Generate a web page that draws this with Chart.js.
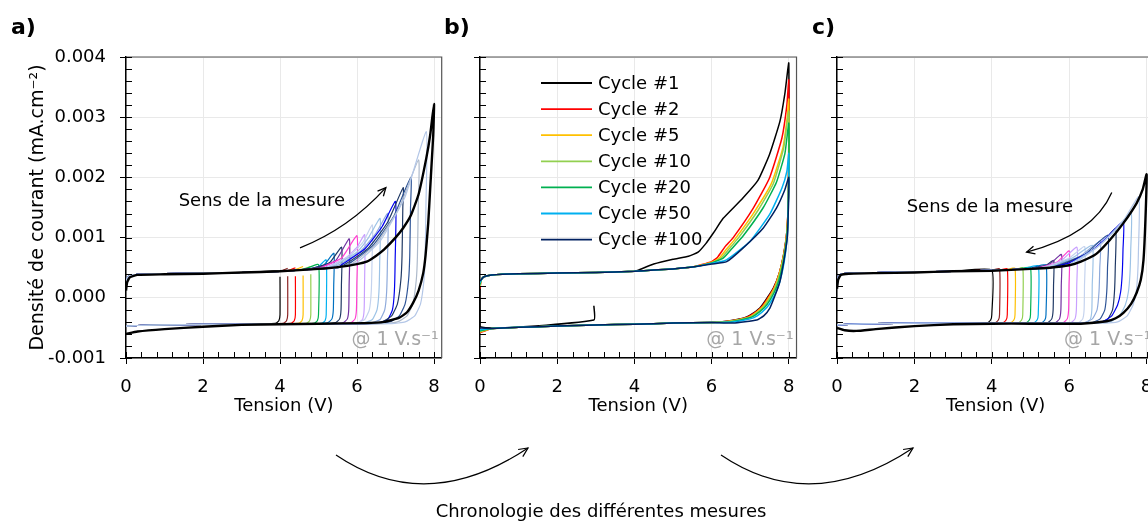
<!DOCTYPE html>
<html>
<head>
<meta charset="utf-8">
<script src="https://cdn.jsdelivr.net/npm/chart.js"></script>
<style>
  body { margin: 0; background: #fff; }
  #wrap { position: relative; width: 1148px; height: 525px; overflow: hidden; font-family: "DejaVu Sans", sans-serif; color: #000; }
  canvas { position: absolute; left: 0; top: 0; }
  .tag { position: absolute; font-weight: bold; font-size: 22px; line-height: 26px; }
  #chrono { position: absolute; left: 601px; top: 500px; transform: translateX(-50%); font-size: 18px; line-height: 22px; white-space: nowrap; }
  svg { position: absolute; left: 0; top: 0; }
</style>
</head>
<body>
<div id="wrap">
  <canvas id="chartA" width="1190" height="525"></canvas>
  <canvas id="chartB" width="1190" height="525"></canvas>
  <canvas id="chartC" width="1190" height="525"></canvas>
  <svg width="1148" height="525">
    <g fill="none" stroke="#000" stroke-width="1.2">
      <path d="M336,455 Q426,516 528,448" />
      <path d="M522.8,456.6 L528,448 L518.1,449.5" />
      <path d="M721,455 Q811,516 913,448" />
      <path d="M907.8,456.6 L913,448 L903.1,449.5" />
    </g>
  </svg>
  <div class="tag" style="left:11px;top:14px">a)</div>
  <div class="tag" style="left:444px;top:14px">b)</div>
  <div class="tag" style="left:812px;top:14px">c)</div>
  <div id="chrono">Chronologie des différentes mesures</div>
</div>

<script>
// axis ticks
const xTicks = [0, 2, 4, 6, 8];
const yTicks = [-0.001, 0, 0.001, 0.002, 0.003, 0.004];

// ---------- panel a : vertex potential raised step by step ----------
const vertexA = [4.0, 4.2, 4.4, 4.6, 4.8, 5.0, 5.2, 5.4, 5.6, 5.8, 6.0, 6.2, 6.4, 6.6, 6.8, 7.0, 7.2, 7.4, 7.6, 7.8];
const colorsA = ['#000000', '#8b2323', '#ff0000', '#ffc000', '#92d050', '#00b050', '#00b0f0', '#0070c0', '#1f3864', '#7030a0',
                 '#ff3fd0', '#c9a0ff', '#c5d3ee', '#9dc3e6', '#8eaadb', '#0000ee', '#1f3864', '#2f5597', '#adb9ca', '#b4c7e7'];
const topBaseA = [[0, 0.00026], [0.03, 0.00033], [0.1, 0.00037], [0.3, 0.00039], [1, 0.0004], [2, 0.00041], [3, 0.00042],
                  [4, 0.00044], [4.5, 0.00046], [5, 0.00048], [5.5, 0.0005], [6, 0.00054]];
const botBaseA = [[7, -0.00042], [6, -0.00043], [5, -0.00043], [4, -0.00043], [3, -0.00044], [2, -0.00044], [1, -0.00045],
                  [0.3, -0.00046], [0, -0.00047]];
const riseA = [
  [[4.0, 0.00045]],
  [[4.05, 0.00045], [4.2, 0.00049]],
  [[4.2, 0.00045], [4.4, 0.0005]],
  [[4.35, 0.00046], [4.6, 0.00052]],
  [[4.55, 0.00047], [4.8, 0.00052]],
  [[4.65, 0.00048], [5.0, 0.00055]],
  [[4.75, 0.00048], [5.0, 0.00052], [5.2, 0.00063]],
  [[4.85, 0.00049], [5.15, 0.00055], [5.4, 0.00074]],
  [[4.9, 0.0005], [5.3, 0.00059], [5.6, 0.00084]],
  [[5.0, 0.0005], [5.45, 0.00062], [5.8, 0.00098]],
  [[5.1, 0.00051], [5.6, 0.00066], [6.0, 0.00103]],
  [[5.2, 0.00051], [5.7, 0.00066], [6.0, 0.00084], [6.2, 0.00105]],
  [[5.3, 0.00052], [5.8, 0.00069], [6.15, 0.00092], [6.4, 0.00121]],
  [[5.4, 0.00053], [6.0, 0.00076], [6.3, 0.001], [6.6, 0.00132]],
  [[5.5, 0.00054], [6.1, 0.00078], [6.5, 0.00108], [6.8, 0.0014]],
  [[5.6, 0.00055], [6.2, 0.00081], [6.65, 0.00118], [7.0, 0.0016]],
  [[5.7, 0.00056], [6.3, 0.00083], [6.8, 0.00126], [7.2, 0.00183]],
  [[5.8, 0.00057], [6.4, 0.00086], [6.95, 0.00135], [7.4, 0.002]],
  [[5.9, 0.00058], [6.5, 0.0009], [7.1, 0.0015], [7.6, 0.00229]],
  [[6.0, 0.00059], [6.6, 0.00094], [7.25, 0.00168], [7.8, 0.00276]]
];
const gapTopA = [0.00035, 0.00036, 0.00036, 0.00037, 0.00039, null, null, null, null, null,
                 null, null, null, null, null, null, null, null, null, null];
const kneeIdxA = [0, 0, 0, 0, 0, 0, 0, 1, 1, 1, 1, 1, 2, 2, 2, 2, 3, 3, 3, 3];
const blackTopA = [[0, 0.00012], [0.03, 0.00026], [0.1, 0.00034], [0.3, 0.00038], [1, 0.00039], [2, 0.0004], [3, 0.00042],
                   [4, 0.00044], [5, 0.00048], [5.5, 0.00051], [6, 0.00056], [6.25, 0.0006], [6.5, 0.0007], [6.7, 0.0008],
                   [7.0, 0.001], [7.2, 0.00116], [7.4, 0.00137], [7.6, 0.00172], [7.8, 0.00232], [7.9, 0.0027], [8, 0.00322]];
const blackBotA = [[7.98, 0.0027], [7.94, 0.00225], [7.9, 0.0018], [7.85, 0.00124], [7.78, 0.0007], [7.72, 0.00041],
                   [7.6, 0.00012], [7.46, -0.00008], [7.3, -0.00024], [7.1, -0.00033], [6.7, -0.0004], [6.2, -0.00042],
                   [5, -0.00043], [4, -0.00044], [3, -0.00045], [2, -0.00048], [1, -0.00052], [0.3, -0.00056], [0, -0.0006]];

// return-branch shapes just after the vertex (offset from vertex, current)
const kneesA = [
  [[0, -0.00028], [-0.03, -0.00038], [-0.1, -0.00042], [-0.3, -0.00043]],
  [[-0.005, 0.0002], [-0.015, -0.0002], [-0.05, -0.00035], [-0.15, -0.00041], [-0.4, -0.00043]],
  [[-0.01, 0.0006], [-0.03, 0.0001], [-0.08, -0.0002], [-0.2, -0.00036], [-0.45, -0.00042]],
  [[-0.01, 0.0015], [-0.03, 0.0007], [-0.06, 0.0003], [-0.15, -0.0001], [-0.3, -0.0003], [-0.55, -0.0004], [-0.9, -0.00043]]
];

// ---------- panel c : vertex potential lowered step by step ----------
const vertexC = [4.0, 4.2, 4.4, 4.6, 4.8, 5.0, 5.2, 5.4, 5.6, 5.8, 6.0, 6.2, 6.4, 6.6, 6.8, 7.0, 7.2, 7.4, 7.6, 7.8];
const colorsC = ['#000000', '#8b2323', '#ff0000', '#ffc000', '#92d050', '#00b050', '#00b0f0', '#0070c0', '#1f3864', '#7030a0',
                 '#ff3fd0', '#c9a0ff', '#c5d3ee', '#9dc3e6', '#8eaadb', '#2f5597', '#1f3864', '#0000ee', '#9dc3e6', '#b4c7e7'];
const topBaseC = [[0, 0.00026], [0.03, 0.00034], [0.1, 0.00039], [0.3, 0.00041], [1, 0.00042], [2, 0.00043], [3, 0.00044],
                  [4, 0.00046], [4.5, 0.00047], [5, 0.00048], [5.5, 0.0005], [6, 0.00054]];
const botBaseC = [[7, -0.00042], [6, -0.00042], [5, -0.00042], [4, -0.00042], [3, -0.00042], [2, -0.00042], [1, -0.00043],
                  [0.3, -0.00044], [0, -0.00045]];
const riseC = [
  [[4.0, 0.00046]],
  [[4.0, 0.00046], [4.2, 0.00048]],
  [[4.2, 0.00046], [4.4, 0.00048]],
  [[4.4, 0.00047], [4.6, 0.00049]],
  [[4.6, 0.00047], [4.8, 0.0005]],
  [[4.7, 0.00048], [5.0, 0.0005]],
  [[4.8, 0.00048], [5.2, 0.00053]],
  [[5.0, 0.00049], [5.4, 0.00055]],
  [[5.1, 0.0005], [5.4, 0.00054], [5.6, 0.00062]],
  [[5.2, 0.0005], [5.5, 0.00056], [5.8, 0.00072]],
  [[5.3, 0.00051], [5.7, 0.0006], [6.0, 0.00078]],
  [[5.4, 0.00052], [5.8, 0.00062], [6.2, 0.00084]],
  [[5.5, 0.00053], [6.0, 0.00066], [6.4, 0.00085]],
  [[5.6, 0.00054], [6.1, 0.00067], [6.6, 0.00087]],
  [[5.7, 0.00055], [6.3, 0.0007], [6.8, 0.00094]],
  [[5.8, 0.00056], [6.4, 0.00072], [7.0, 0.00104]],
  [[5.9, 0.00057], [6.5, 0.00075], [6.9, 0.00095], [7.2, 0.00115]],
  [[6.0, 0.00058], [6.6, 0.00079], [7.0, 0.00102], [7.4, 0.00127]],
  [[6.1, 0.00059], [6.7, 0.00083], [7.2, 0.00113], [7.6, 0.00142]],
  [[6.2, 0.0006], [6.8, 0.00088], [7.4, 0.00128], [7.8, 0.00168]]
];
const kneeIdxC = [0, 0, 0, 0, 0, 0, 0, 0, 1, 1, 1, 1, 1, 1, 2, 2, 2, 3, 3, 3];
const kneesC = [
  [[0, -0.00028], [-0.03, -0.00037], [-0.1, -0.00041], [-0.3, -0.00042]],
  [[-0.005, 0.0002], [-0.015, -0.0002], [-0.05, -0.00035], [-0.15, -0.00041], [-0.4, -0.00042]],
  [[-0.01, 0.0005], [-0.03, 0.0001], [-0.08, -0.0002], [-0.2, -0.00035], [-0.45, -0.00042]],
  [[-0.01, 0.0008], [-0.03, 0.0004], [-0.07, 0.0001], [-0.15, -0.00012], [-0.3, -0.0003], [-0.55, -0.0004], [-0.9, -0.00042]]
];
const blackTopC = [[0, 0.00015], [0.03, 0.0003], [0.1, 0.00038], [0.3, 0.0004], [1, 0.00041], [2, 0.00042], [3, 0.00044],
                   [4, 0.00045], [5, 0.00048], [5.5, 0.0005], [6, 0.00054], [6.3, 0.0006], [6.7, 0.00073], [7.05, 0.00096],
                   [7.4, 0.00124], [7.74, 0.00157], [7.9, 0.0018], [8, 0.00205]];
const blackBotC = [[7.97, 0.0013], [7.92, 0.00063], [7.85, 0.0003], [7.74, 0.00008], [7.6, -0.0001], [7.4, -0.00025],
                   [7.2, -0.00034], [6.97, -0.00039], [6.3, -0.00043], [5, -0.00043], [4, -0.00043], [3, -0.00044],
                   [2, -0.00047], [1, -0.00052], [0.5, -0.00055], [0.2, -0.00054], [0, -0.0005]];

// ---------- panel b : repeated cycles up to 8 V ----------
const cycleLabels = ['Cycle #1', 'Cycle #2', 'Cycle #5', 'Cycle #10', 'Cycle #20', 'Cycle #50', 'Cycle #100'];
const colorsB = ['#000000', '#ff0000', '#ffc000', '#92d050', '#00b050', '#00b0f0', '#002060'];
const topBaseB = [[0.03, 0.0003], [0.1, 0.00035], [0.3, 0.00038], [1, 0.0004], [2, 0.00041], [3, 0.00042], [4, 0.00044],
                  [4.5, 0.00046], [5, 0.00048], [5.5, 0.00051]];
const botBaseB = [[6, -0.00041], [5, -0.00042], [4, -0.00044], [3, -0.00045], [2, -0.00047], [1, -0.00049], [0.3, -0.00051]];
const startTopB = [0.00027, 0.00015, 0.00018, 0.0002, 0.00022, 0.00025, 0.00028];
const endBotB = [-0.00053, -0.00058, -0.00057, -0.00056, -0.00055, -0.00053, -0.0005];
const firstScanB = [[2.95, -0.00013], [2.95, -0.00037], [0, -0.00048]];
const upB = [
  [[4.1, 0.00046], [4.5, 0.00056], [5.0, 0.00064], [5.4, 0.00069], [5.65, 0.00076], [5.85, 0.0009], [6.05, 0.00108],
   [6.3, 0.00132], [6.8, 0.00165], [7.2, 0.00195], [7.5, 0.00238], [7.77, 0.00293], [7.9, 0.0034], [8.0, 0.0039]],
  [[6.0, 0.0006], [6.15, 0.00067], [6.35, 0.00085], [6.56, 0.001], [7.08, 0.00149], [7.5, 0.00199], [7.82, 0.00265], [7.95, 0.0032], [8.0, 0.00362]],
  [[6.0, 0.00059], [6.2, 0.00066], [6.4, 0.00082], [6.6, 0.00097], [7.1, 0.00142], [7.55, 0.0019], [7.85, 0.0025], [7.96, 0.003], [8.0, 0.0033]],
  [[6.0, 0.00058], [6.25, 0.00066], [6.45, 0.00081], [6.7, 0.001], [7.2, 0.00145], [7.6, 0.0019], [7.87, 0.0025], [8.0, 0.0031]],
  [[6.0, 0.00058], [6.3, 0.00066], [6.5, 0.0008], [6.82, 0.00103], [7.34, 0.0015], [7.68, 0.00192], [7.9, 0.0024], [8.0, 0.0029]],
  [[6.0, 0.00057], [6.35, 0.00062], [6.56, 0.00071], [7.0, 0.00094], [7.5, 0.00138], [7.82, 0.00182], [7.95, 0.0021], [8.0, 0.0024]],
  [[6.0, 0.00056], [6.39, 0.0006], [6.82, 0.00083], [7.34, 0.00116], [7.68, 0.00149], [7.9, 0.0018], [8.0, 0.002]]
];
const downB = [
  [[7.99, 0.0017], [7.95, 0.0011], [7.86, 0.0007], [7.75, 0.0004], [7.6, 0.00016], [7.4, -0.00004], [7.25, -0.00017], [7.0, -0.00029], [6.82, -0.00034], [6.4, -0.00039]],
  [[7.99, 0.0017], [7.95, 0.0011], [7.87, 0.00072], [7.76, 0.00042], [7.61, 0.00016], [7.42, -0.00004], [7.27, -0.00017], [7.02, -0.00029], [6.84, -0.00034], [6.42, -0.00039]],
  [[7.99, 0.0017], [7.95, 0.0011], [7.88, 0.00075], [7.77, 0.00044], [7.63, 0.00017], [7.45, -0.00003], [7.3, -0.00016], [7.05, -0.00029], [6.87, -0.00034], [6.45, -0.00039]],
  [[7.99, 0.0017], [7.96, 0.0011], [7.89, 0.00076], [7.79, 0.00045], [7.65, 0.00017], [7.48, -0.00003], [7.33, -0.00016], [7.08, -0.00029], [6.9, -0.00034], [6.48, -0.00039]],
  [[7.99, 0.0017], [7.96, 0.0011], [7.9, 0.00076], [7.81, 0.00045], [7.68, 0.00017], [7.52, -0.00003], [7.37, -0.00016], [7.12, -0.00029], [6.94, -0.00034], [6.5, -0.0004]],
  [[7.99, 0.0016], [7.97, 0.0011], [7.92, 0.00077], [7.84, 0.00046], [7.72, 0.00017], [7.57, -0.00003], [7.43, -0.00016], [7.18, -0.0003], [7.0, -0.00035], [6.55, -0.0004]],
  [[7.99, 0.0015], [7.97, 0.0011], [7.95, 0.00094], [7.87, 0.0006], [7.77, 0.00027], [7.65, 0.00005], [7.51, -0.00017], [7.35, -0.0003], [7.17, -0.00037], [6.56, -0.00042]]
];

// ---------- building the loops ----------
function toXY(list) {
  return list.map(p => ({ x: p[0], y: p[1] }));
}

function thinLoop(topBase, rise, fall, botBase) {
  const pts = topBase.filter(p => p[0] < rise[0][0]).concat(rise, fall);
  const xEnd = fall[fall.length - 1][0];
  return toXY(pts.concat(botBase.filter(p => p[0] < xEnd)));
}

function thinSets(vertex, rise, gapTop, knees, kneeIdx, topBase, botBase, colors) {
  return vertex.map((v, i) => {
    let fall = gapTop && gapTop[i] !== null ? [[v, null], [v, gapTop[i]]] : [];
    fall = fall.concat(knees[kneeIdx[i]].map(k => [v + k[0], k[1]]));
    return {
      data: thinLoop(topBase, rise[i], fall, botBase),
      borderColor: colors[i], borderWidth: 1.2, order: 20 - i
    };
  });
}

const setsA = [{ data: toXY(blackTopA.concat(blackBotA)), borderColor: '#000', borderWidth: 2.4, order: 0 }]
  .concat(thinSets(vertexA, riseA, gapTopA, kneesA, kneeIdxA, topBaseA, botBaseA, colorsA));
const setsC = [{ data: toXY(blackTopC.concat(blackBotC)), borderColor: '#000', borderWidth: 2.4, order: 0 }]
  .concat(thinSets(vertexC, riseC, null, kneesC, kneeIdxC, topBaseC, botBaseC, colorsC));

const setsB = cycleLabels.map((lab, i) => {
  const head = i === 0 ? firstScanB.concat([[0, startTopB[0]]]) : [[0, startTopB[i]]];
  const top = topBaseB.filter(p => p[0] < upB[i][0][0]);
  const pts = head.concat(top, upB[i], downB[i], botBaseB.filter(p => p[0] < downB[i][downB[i].length - 1][0]), [[0, endBotB[i]]]);
  return { label: lab, data: toXY(pts), borderColor: colorsB[i], borderWidth: 1.5, order: 6 - i };
});

// ---------- drawing ----------
Chart.defaults.font.family = '"DejaVu Sans", sans-serif';
Chart.defaults.font.size = 18;
Chart.defaults.color = '#000';

function arrow(ctx, p0, c, p1) {
  ctx.beginPath();
  ctx.moveTo(p0[0], p0[1]);
  ctx.quadraticCurveTo(c[0], c[1], p1[0], p1[1]);
  ctx.stroke();
  const ang = Math.atan2(p1[1] - c[1], p1[0] - c[0]);
  ctx.beginPath();
  ctx.moveTo(p1[0] - 9 * Math.cos(ang - 0.45), p1[1] - 9 * Math.sin(ang - 0.45));
  ctx.lineTo(p1[0], p1[1]);
  ctx.lineTo(p1[0] - 9 * Math.cos(ang + 0.45), p1[1] - 9 * Math.sin(ang + 0.45));
  ctx.stroke();
}

const decor = {
  id: 'decor',
  afterDraw(chart, args, o) {
    const { ctx, chartArea: a, scales: { x, y } } = chart;
    const px = p => [x.getPixelForValue(p[0]), y.getPixelForValue(p[1])];
    ctx.save();
    // plot frame
    ctx.strokeStyle = '#555';
    ctx.lineWidth = 1.2;
    ctx.beginPath();
    ctx.moveTo(a.left, a.top);
    ctx.lineTo(a.right, a.top);
    ctx.lineTo(a.right, a.bottom);
    ctx.stroke();
    // inner tick marks
    ctx.strokeStyle = '#000';
    ctx.lineWidth = 1;
    ctx.beginPath();
    for (let k = 0; k <= 20; k++) {
      const xx = Math.round(x.getPixelForValue(k * 0.4)) + 0.5;
      ctx.moveTo(xx, a.bottom);
      ctx.lineTo(xx, a.bottom - 6);
    }
    for (let k = 0; k <= 25; k++) {
      const yy = Math.round(y.getPixelForValue(-0.001 + k * 0.0002)) + 0.5;
      ctx.moveTo(a.left, yy);
      ctx.lineTo(a.left + 6, yy);
    }
    ctx.stroke();
    // scan rate
    ctx.fillStyle = '#a6a6a6';
    ctx.font = '19px "DejaVu Sans"';
    ctx.textAlign = 'right';
    ctx.textBaseline = 'middle';
    ctx.fillText('@ 1 V.s⁻¹', a.right - 3, y.getPixelForValue(-0.00071));
    // direction of the measurement
    if (o.sens) {
      ctx.fillStyle = '#000';
      ctx.font = '18px "DejaVu Sans"';
      ctx.textAlign = 'center';
      const t = px(o.sens.text);
      ctx.fillText('Sens de la mesure', t[0], t[1]);
      ctx.lineWidth = 1.3;
      arrow(ctx, px(o.sens.p0), px(o.sens.c), px(o.sens.p1));
    }
    // legend inside the plot
    if (o.legend) {
      ctx.font = '18px "DejaVu Sans"';
      ctx.textAlign = 'left';
      ctx.fillStyle = '#000';
      chart.data.datasets.forEach((ds, i) => {
        const yy = a.top + 26 + i * 26.1;
        ctx.strokeStyle = ds.borderColor;
        ctx.lineWidth = 1.8;
        ctx.beginPath();
        ctx.moveTo(a.left + 61, yy);
        ctx.lineTo(a.left + 112, yy);
        ctx.stroke();
        ctx.fillText(ds.label, a.left + 118, yy + 1);
      });
    }
    ctx.restore();
  }
};

function makeScales(showY) {
  return {
    x: {
      type: 'linear', min: 0, max: 8.2,
      afterBuildTicks: s => { s.ticks = xTicks.map(v => ({ value: v })); },
      afterFit: s => { s.height = 60; },
      ticks: { padding: 13, maxRotation: 0, autoSkip: false, font: { size: 18 } },
      grid: { color: '#e9e9e9', tickColor: '#000', tickLength: 6 },
      border: { color: '#000', width: 1.5 },
      title: { display: true, text: 'Tension (V)', font: { size: 18 }, padding: { top: 0, bottom: 1 } }
    },
    y: {
      type: 'linear', min: -0.001, max: 0.004,
      afterBuildTicks: s => { s.ticks = yTicks.map(v => ({ value: v })); },
      afterFit: s => { s.width = 126; },
      ticks: {
        padding: 14, autoSkip: false, font: { size: 18 },
        callback: v => showY ? (Math.abs(v) < 1e-9 ? '0.000' : v.toFixed(3)) : ''
      },
      grid: { color: '#e9e9e9', tickColor: '#000', tickLength: 6 },
      border: { color: '#000', width: 1.5 },
      title: { display: showY, text: 'Densité de courant (mA.cm⁻²)', font: { size: 19 }, padding: { top: 27 } }
    }
  };
}

function makeChart(id, datasets, left, pxPerVolt, opts, showY) {
  const right = left + 8.2 * pxPerVolt;
  return new Chart(document.getElementById(id), {
    type: 'scatter',
    data: { datasets },
    options: {
      responsive: false,
      animation: false,
      events: [],
      showLine: true,
      layout: { padding: { left: left - 126, right: 1190 - right, top: 57, bottom: 107 } },
      elements: { point: { radius: 0 }, line: { tension: 0.15, fill: false } },
      plugins: { legend: { display: false }, tooltip: { enabled: false }, decor: opts },
      scales: makeScales(showY)
    },
    plugins: [decor]
  });
}

makeChart('chartA', setsA, 126, 38.5,
  { sens: { text: [3.53, 0.00161], p0: [4.52, 0.00083], c: [5.79, 0.00115], p1: [6.75, 0.00183] } }, true);
makeChart('chartB', setsB, 480, 38.6, { legend: true }, false);
makeChart('chartC', setsC, 837, 38.7,
  { sens: { text: [3.95, 0.00151], p0: [7.10, 0.00175], c: [6.63, 0.00105], p1: [4.90, 0.00076] } }, false);
</script>
</body>
</html>
